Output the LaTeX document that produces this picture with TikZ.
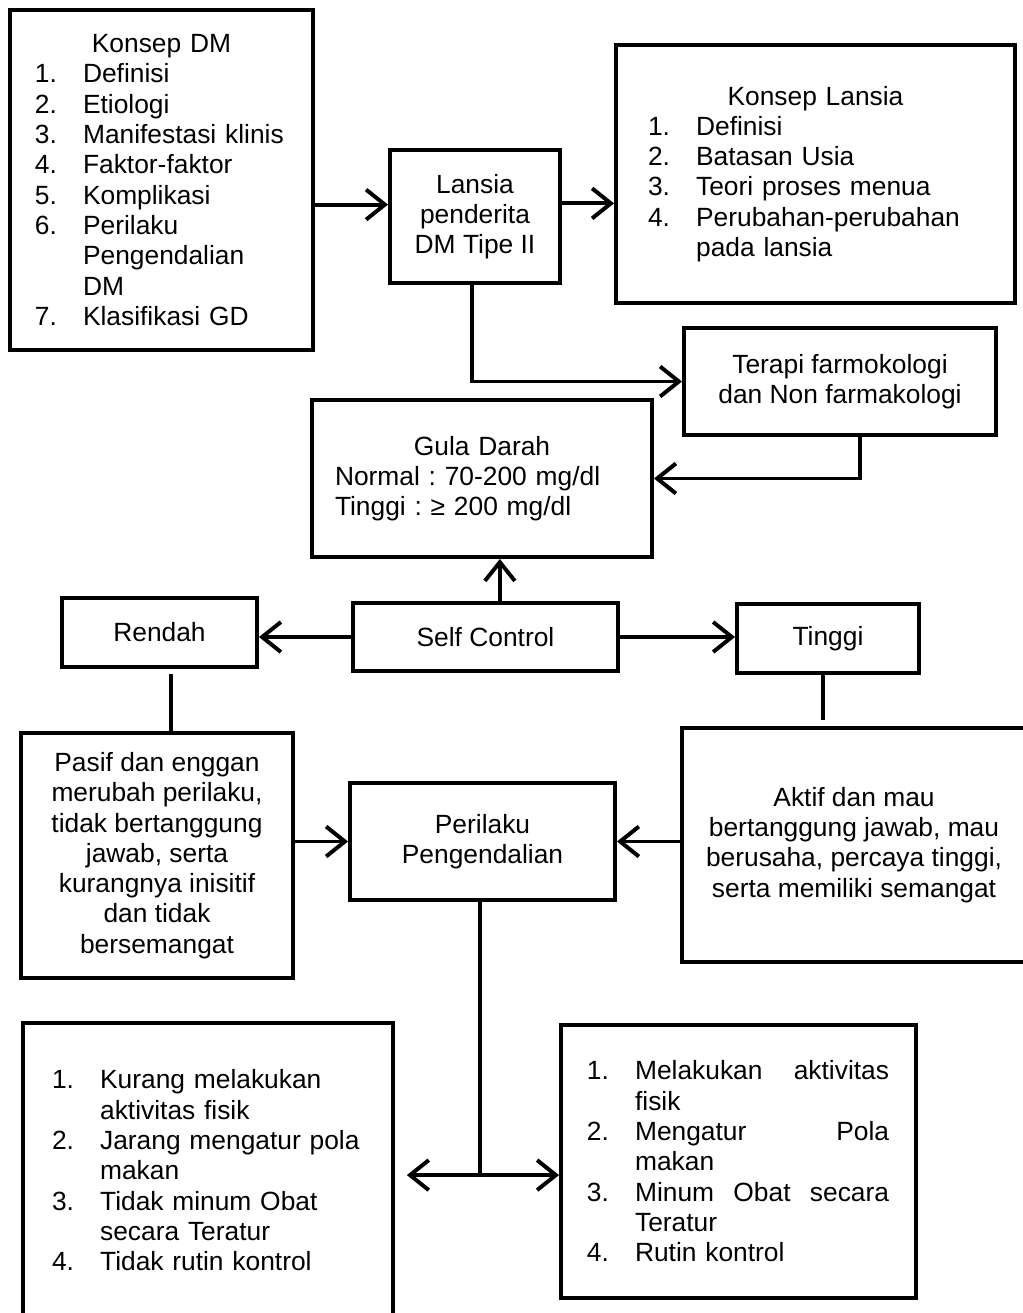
\documentclass[tikz,border=0pt]{standalone}
\usepackage{fontspec}
\setmainfont{Liberation Sans}
\usetikzlibrary{arrows.meta,positioning}

\frenchspacing
\newcommand{\itemno}[1]{\makebox[0.77cm][l]{#1}}
\newcommand{\itemind}{\hspace*{0.77cm}}

\begin{document}
\begin{tikzpicture}[
			font=\fontsize{12}{13.8}\selectfont,
			box/.style={
				rectangle, draw=black, line width=1.8pt,
				align=center, inner sep=2pt
			},
			listbox/.style={
				box, align=left
			},
			arr/.style={-{Straight Barb[length=0.3cm,width=0.48cm]}, line width=1.8pt},
			conn/.style={line width=1.8pt}
			]
			
			\useasboundingbox (0,0) rectangle (16.368,-21.008);
			
			%% ── Top row: concepts ───────────────────────────────────────────────
			\node[listbox, minimum width=4.848cm, minimum height=5.44cm, text width=4.05cm] (dm) at (2.584, -2.88) {
				\makebox[\linewidth]{Konsep DM}\\
				\itemno{1.}Definisi\\
				\itemno{2.}Etiologi\\
				\itemno{3.}Manifestasi klinis\\
				\itemno{4.}Faktor-faktor\\
				\itemno{5.}Komplikasi\\
				\itemno{6.}Perilaku\\
				\itemind Pengendalian\\
				\itemind DM\\
				\itemno{7.}Klasifikasi GD
			};
			
			\node[box, minimum width=2.72cm, minimum height=2.128cm] (lansia) at (7.6, -3.464) {
				Lansia\\
				penderita\\
				DM Tipe II
			};
			
			\node[listbox, minimum width=6.384cm, minimum height=4.128cm, text width=5.36cm] (konsepls) at (13.048, -2.784) {
				\makebox[\linewidth]{Konsep Lansia}\\
				\itemno{1.}Definisi\\
				\itemno{2.}Batasan Usia\\
				\itemno{3.}Teori proses menua\\
				\itemno{4.}Perubahan-perubahan\\
				\itemind pada lansia
			};
			
			\coordinate (a1) at ([yshift=0.19cm]lansia.west);
			\draw[arr] (dm.east |- a1) -- (a1);
			\draw[arr] ([yshift=0.21cm]lansia.east) -- ([yshift=0.21cm]lansia.east -| konsepls.west);
			
			%% ── Therapy and blood sugar ─────────────────────────────────────────
			\node[box, minimum width=4.992cm, minimum height=1.712cm] (terapi) at (13.44, -6.104) {
				Terapi farmokologi\\
				dan Non farmakologi
			};
			\draw[arr] ([xshift=-0.05cm]lansia.south) |- (terapi.west);
			
			\node[listbox, minimum width=5.44cm, minimum height=2.512cm, text width=4.704cm] (gula) at (7.712, -7.656) {
				\makebox[\linewidth]{Gula Darah}\\
				Normal : 70-200 mg/dl\\
				Tinggi : ≥ 200 mg/dl
			};
			\draw[arr] ([xshift=0.32cm]terapi.south) |- (gula.east);
			
			%% ── Self control ────────────────────────────────────────────────────
			\node[box, minimum width=4.24cm, minimum height=1.088cm] (self) at (7.768, -10.192) {Self Control};
			\node[box, minimum width=3.12cm, minimum height=1.104cm] (rendah) at (2.552, -10.12) {Rendah};
			\node[box, minimum width=2.912cm, minimum height=1.104cm] (tinggi) at (13.248, -10.216) {Tinggi};
			
			\draw[arr] ([xshift=0.23cm]self.north) -- ([xshift=0.23cm]self.north |- gula.south);
			\draw[arr] (self.west) -- (self.west -| rendah.east);
			\draw[arr] (self.east) -- (self.east -| tinggi.west);
			
			%% ── Attitudes ───────────────────────────────────────────────────────
			\node[box, minimum width=4.352cm, minimum height=3.92cm] (pasif) at (2.512, -13.688) {
				Pasif dan enggan\\
				merubah perilaku,\\
				tidak bertanggung\\
				jawab, serta\\
				kurangnya inisitif\\
				dan tidak\\
				bersemangat
			};
			\node[box, minimum width=4.24cm, minimum height=1.872cm] (perilaku) at (7.72, -13.464) {
				Perilaku\\
				Pengendalian
			};
			\node[box, minimum width=5.504cm, minimum height=3.744cm] (aktif) at (13.664, -13.52) {
				Aktif dan mau\\
				bertanggung jawab, mau\\
				berusaha, percaya tinggi,\\
				serta memiliki semangat
			};
			
			\draw[conn, shorten <=0.08cm] ([xshift=0.18cm]rendah.south) -- ([xshift=0.18cm]rendah.south |- pasif.north);
			\draw[conn, shorten >=0.1cm] ([xshift=-0.08cm]tinggi.south) -- ([xshift=-0.08cm]tinggi.south |- aktif.north);
			\draw[arr] (pasif.east |- perilaku.west) -- (perilaku.west);
			\draw[arr] (aktif.west |- perilaku.east) -- (perilaku.east);
			
			%% ── Outcomes ────────────────────────────────────────────────────────
			\node[listbox, minimum width=5.92cm, minimum height=4.72cm, text width=4.992cm] (kurang) at (3.328, -18.728) {
				\itemno{1.}Kurang melakukan\\
				\itemind aktivitas fisik\\
				\itemno{2.}Jarang mengatur pola\\
				\itemind makan\\
				\itemno{3.}Tidak minum Obat\\
				\itemind secara Teratur\\
				\itemno{4.}Tidak rutin kontrol
			};
			\node[listbox, minimum width=5.68cm, minimum height=4.368cm, text width=4.85cm] (rutin) at (11.816, -18.584) {
				\itemno{1.}\hbox to 4.064cm{Melakukan\hfill aktivitas}\\
				\itemind fisik\\
				\itemno{2.}\hbox to 4.064cm{Mengatur\hfill Pola}\\
				\itemind makan\\
				\itemno{3.}\hbox to 4.064cm{Minum\hfill Obat\hfill secara}\\
				\itemind Teratur\\
				\itemno{4.}Rutin kontrol
			};
			
			\coordinate (split) at ([xshift=-0.04cm, yshift=-4.37cm]perilaku.south);
			\draw[conn] ([xshift=-0.04cm]perilaku.south) -- (split);
			\draw[arr, shorten >=0.19cm] (split) -- (split -| kurang.east);
			\draw[arr] (split) -- (split -| rutin.west);
			
		\end{tikzpicture}
\end{document}
